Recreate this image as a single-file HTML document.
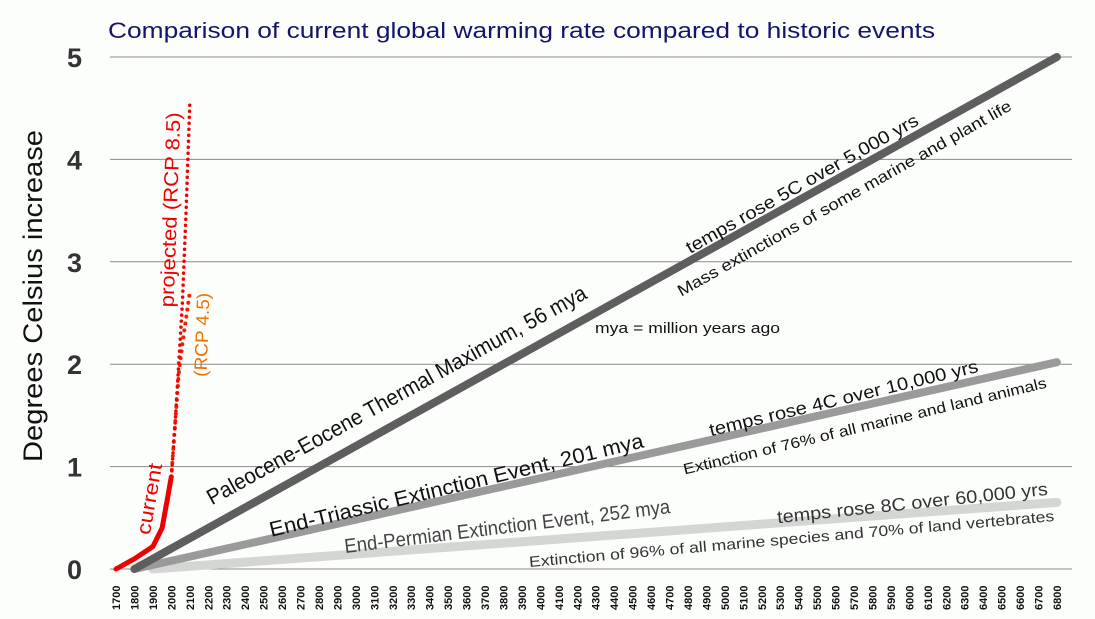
<!DOCTYPE html>
<html><head><meta charset="utf-8"><style>
html,body{margin:0;padding:0;background:#fcfefc;}
svg{display:block;font-family:"Liberation Sans",sans-serif;}
</style></head><body>
<svg id="chart" width="1095" height="619" viewBox="0 0 1095 619">
<rect width="1095" height="619" fill="#fcfefc"/>
<text x="108" y="38" font-size="22" fill="#14146a" textLength="827" lengthAdjust="spacingAndGlyphs">Comparison of current global warming rate compared to historic events</text>
<text transform="translate(42,296) rotate(-90)" text-anchor="middle" font-size="27" fill="#111" textLength="332" lengthAdjust="spacingAndGlyphs">Degrees Celsius increase</text>
<g id="grid"></g><g id="yticks"></g><g id="xticks"></g><g id="series"></g>
<g fill="#111">
<text transform="translate(402,405) rotate(-28.9)" text-anchor="middle" font-size="22" dy="-4" textLength="430" lengthAdjust="spacingAndGlyphs">Paleocene-Eocene Thermal Maximum, 56 mya</text>
<text transform="translate(805,189) rotate(-29.5)" text-anchor="middle" font-size="18" textLength="264" lengthAdjust="spacingAndGlyphs">temps rose 5C over 5,000 yrs</text>
<text transform="translate(847,203) rotate(-29.5)" text-anchor="middle" font-size="16" textLength="381" lengthAdjust="spacingAndGlyphs">Mass extinctions of some marine and plant life</text>
<text x="595" y="333" font-size="15" textLength="185" lengthAdjust="spacingAndGlyphs">mya = million years ago</text>
<text transform="translate(458,492) rotate(-13.5)" text-anchor="middle" font-size="21" textLength="384" lengthAdjust="spacingAndGlyphs">End-Triassic Extinction Event, 201 mya</text>
<text transform="translate(845,404) rotate(-13.5)" text-anchor="middle" font-size="18" textLength="276" lengthAdjust="spacingAndGlyphs">temps rose 4C over 10,000 yrs</text>
<text transform="translate(866,431) rotate(-13.5)" text-anchor="middle" font-size="15" textLength="373" lengthAdjust="spacingAndGlyphs">Extinction of 76% of all marine and land animals</text>
<text transform="translate(508,533) rotate(-7)" text-anchor="middle" font-size="20" fill="#444" textLength="328" lengthAdjust="spacingAndGlyphs">End-Permian Extinction Event, 252 mya</text>
<text transform="translate(913,509) rotate(-6)" text-anchor="middle" font-size="18" fill="#333" textLength="272" lengthAdjust="spacingAndGlyphs">temps rose 8C over 60,000 yrs</text>
<text transform="translate(792,544) rotate(-5)" text-anchor="middle" font-size="15" fill="#333" textLength="527" lengthAdjust="spacingAndGlyphs">Extinction of 96% of all marine species and 70% of land vertebrates</text>
<text transform="translate(156,500) rotate(-80)" text-anchor="middle" font-size="20" fill="#f00000" textLength="72" lengthAdjust="spacingAndGlyphs">current</text>
<text transform="translate(177,210) rotate(-88)" text-anchor="middle" font-size="20" fill="#f00000" textLength="195" lengthAdjust="spacingAndGlyphs">projected (RCP 8.5)</text>
<text transform="translate(208,335) rotate(-88)" text-anchor="middle" font-size="18" fill="#f07000" textLength="84" lengthAdjust="spacingAndGlyphs">(RCP 4.5)</text>
</g>
</svg>
<script>
const yTicks=[0,1,2,3,4,5];
const xYears=[];for(let yr=1700;yr<=6800;yr+=100)xYears.push(yr);
const paleoYears=[1800,6800], paleoVals=[0,5];
const triasYears=[1800,2500,6800], triasVals=[0,0.28,2.02];
const permYears=[1900,2500,6800], permVals=[0,0.08,0.65];
const curYears=[1700,1800,1900,1950,1980,2000], curVals=[0,0.1,0.22,0.4,0.7,0.9];
const rcp85Years=[2000,2020,2040,2060,2080,2100], rcp85Vals=[0.9,1.4,2.0,2.6,3.5,4.55];
const rcp45Years=[2000,2040,2060,2080,2100], rcp45Vals=[0.9,1.9,2.2,2.45,2.7];
const NS="http://www.w3.org/2000/svg";
const X=v=>116+(v-1700)/100*18.45;
const Y=v=>569-102.4*v;
function mk(tag,attrs,parent){const e=document.createElementNS(NS,tag);for(const k in attrs)e.setAttribute(k,attrs[k]);document.getElementById(parent).appendChild(e);return e;}
yTicks.forEach(t=>{
 const l=mk('line',{x1:110,x2:1072,y1:Y(t),y2:Y(t),stroke:'#8a8a8a','stroke-width':1},'grid');
 
 
 const tx=mk('text',{x:82,y:Y(t)+10,'text-anchor':'end','font-size':27,'font-weight':'bold',fill:'#333'},'yticks');
 tx.textContent=t;
 
 
});
xYears.forEach(yr=>{
 const tx=mk('text',{transform:`translate(${X(yr)+4},610) rotate(-90)`,'font-size':11,'font-weight':'bold',fill:'#111'},'xticks');
 tx.textContent=yr;
 
 
});
function line(xs,vs,style,name){
 const d=xs.map((x,i)=>(i?'L':'M')+X(x).toFixed(1)+','+Y(vs[i]).toFixed(1)).join(' ');
 const p=mk('path',Object.assign({d:d,fill:'none','stroke-linecap':'round','stroke-linejoin':'round'},style),'series');
 
 
}
line(permYears,permVals,{stroke:'#d4d6d4','stroke-width':9},'permian-line');
line(triasYears,triasVals,{stroke:'#9a9a9a','stroke-width':8},'triassic-line');
line(paleoYears,paleoVals,{stroke:'#5e5e5e','stroke-width':8},'paleocene-line');
line(rcp45Years,rcp45Vals,{stroke:'#f02000','stroke-width':4,'stroke-dasharray':'0 7'},'rcp45-line');
line(rcp85Years,rcp85Vals,{stroke:'#f00000','stroke-width':3.5,'stroke-dasharray':'0 6'},'rcp85-line');
line(curYears,curVals,{stroke:'#f00000','stroke-width':5},'current-line');
</script>
</body></html>
